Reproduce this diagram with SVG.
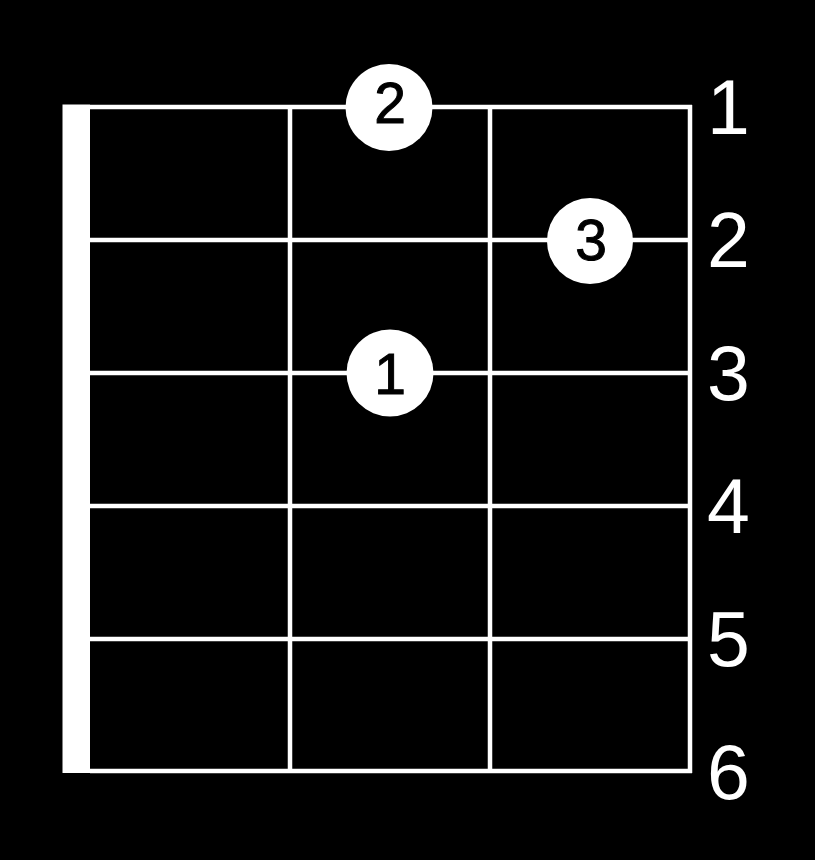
<svg xmlns="http://www.w3.org/2000/svg" width="815" height="860" viewBox="0 0 815 860">
<style>
.ln{stroke:#fff;stroke-width:4.5;fill:none}
.dot{fill:#fff}
.fn{font-family:"Liberation Sans",Arial,sans-serif;font-size:57px;fill:#000;stroke:#000;stroke-width:1;text-anchor:middle}
.lb{font-family:"Liberation Sans",Arial,sans-serif;font-size:77px;fill:#fff}
</style>
<rect x="0" y="0" width="815" height="860" fill="#000"/>
<g id="connectors">
<line class="ln" x1="90" y1="107" x2="692" y2="107"/>
<line class="ln" x1="90" y1="240" x2="692" y2="240"/>
<line class="ln" x1="90" y1="373" x2="692" y2="373"/>
<line class="ln" x1="90" y1="506" x2="692" y2="506"/>
<line class="ln" x1="90" y1="639" x2="692" y2="639"/>
<line class="ln" x1="90" y1="771" x2="692" y2="771"/>
<line class="ln" x1="290" y1="105" x2="290" y2="773"/>
<line class="ln" x1="490" y1="105" x2="490" y2="773"/>
<line class="ln" x1="690" y1="105" x2="690" y2="773"/>
</g>
<g id="nut"><rect x="62.5" y="104.5" width="27.5" height="668.5" fill="#fff"/></g>
<g id="finger-2"><circle class="dot" cx="389" cy="107.5" r="43.5"/><text class="fn" x="390" y="123">2</text></g>
<g id="finger-3"><circle class="dot" cx="590" cy="241" r="43"/><text class="fn" x="591" y="260">3</text></g>
<g id="finger-1"><circle class="dot" cx="390" cy="373" r="43.5"/><text class="fn" x="390" y="394">1</text></g>
<g id="labels">
<text class="lb" x="707" y="134">1</text>
<text class="lb" x="707" y="267">2</text>
<text class="lb" x="707" y="400">3</text>
<text class="lb" x="707" y="533">4</text>
<text class="lb" x="707" y="666">5</text>
<text class="lb" x="707" y="799">6</text>
</g>
</svg>
